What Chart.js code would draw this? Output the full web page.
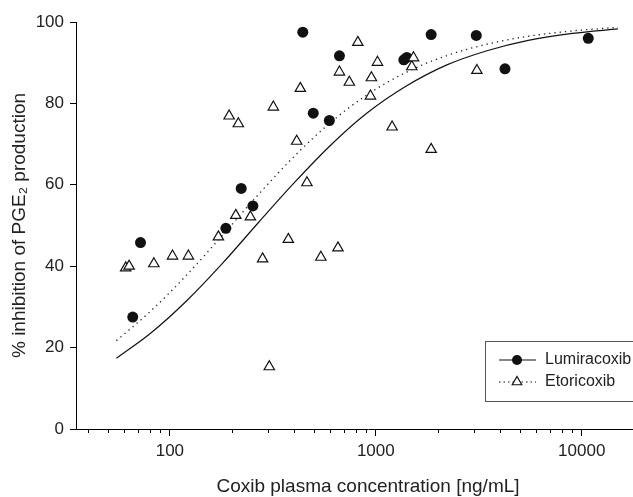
<!DOCTYPE html>
<html>
<head>
<meta charset="utf-8">
<script src="https://cdn.jsdelivr.net/npm/chart.js@4.4.1/dist/chart.umd.min.js"></script>
<style>
  html, body { margin: 0; padding: 0; background: #fff; overflow: hidden; }
  #wrap { width: 633px; height: 497px; overflow: hidden; }
</style>
</head>
<body>
<div id="wrap"><canvas id="coxibChart" width="670" height="497"></canvas></div>
<script>
// Lumiracoxib: plasma concentration [ng/mL] vs % inhibition
const lumiConc  = [66, 72, 187, 222, 253, 442, 497, 595, 666, 1368, 1415, 1857, 3076, 4240, 10760];
const lumiInhib = [27.5, 45.8, 49.3, 59.1, 54.8, 97.5, 77.6, 75.8, 91.7, 90.7, 91.3, 96.9, 96.7, 88.5, 96.0];

// Etoricoxib
const etoriConc  = [61, 63.4, 83.6, 103, 123, 172, 194, 209, 215, 246, 282, 304, 318, 376, 413,
                    430, 463, 541, 655, 666, 744, 818, 942, 952, 1019, 1200, 1496, 1524, 1857, 3097];
const etoriInhib = [39.6, 40.0, 40.6, 42.5, 42.5, 47.2, 76.9, 52.5, 75.0, 52.1, 41.8, 15.3, 79.1, 46.6, 70.7,
                    83.7, 60.5, 42.2, 44.5, 87.7, 85.2, 95.0, 81.8, 86.3, 90.1, 74.2, 89.0, 91.2, 68.7, 88.1];

// fitted curves
const fitConc  = [55, 80, 120, 180, 270, 400, 600, 900, 1400, 2200, 3500, 5500, 9000, 15000];
const lumiFit  = [17.4, 23.4, 31.4, 40.7, 50.8, 60.4, 69.6, 77.5, 84.2, 89.4, 93.0, 95.5, 97.2, 98.3];
const etoriFit = [21.7, 28.8, 37.7, 47.6, 57.7, 66.9, 75.2, 82.0, 87.6, 91.7, 94.6, 96.5, 97.8, 98.7];

// axis ticks
const xTickValues = [40, 50, 60, 70, 80, 90, 100, 200, 300, 400, 500, 600, 700, 800, 900,
                     1000, 2000, 3000, 4000, 5000, 6000, 7000, 8000, 9000, 10000, 20000];
const xLabelValues = [100, 1000, 10000];
const yTickValues = [0, 20, 40, 60, 80, 100];

const family = "'Liberation Sans', Arial, Helvetica, sans-serif";
const toPoints = (xs, ys) => xs.map((x, i) => ({ x: x, y: ys[i] }));

const minorTicks = {
  id: 'minorTicks',
  afterDraw(chart) {
    const xs = chart.scales.x;
    const ctx = chart.ctx;
    ctx.save();
    ctx.strokeStyle = '#000';
    ctx.lineWidth = 1;
    xs.ticks.forEach(t => {
      if (t.major) return;
      const px = Math.round(xs.getPixelForValue(t.value)) + 0.5;
      ctx.beginPath();
      ctx.moveTo(px, xs.top);
      ctx.lineTo(px, xs.top + 4);
      ctx.stroke();
    });
    ctx.restore();
  }
};

const boxLegend = {
  id: 'boxLegend',
  afterDraw(chart) {
    const ctx = chart.ctx;
    const area = chart.chartArea;
    const left = area.right - 175, top = area.bottom - 88;
    ctx.save();
    ctx.fillStyle = '#fff';
    ctx.fillRect(left, top, 200, 60);
    ctx.strokeStyle = '#555';
    ctx.lineWidth = 1;
    ctx.strokeRect(left + 0.5, top + 0.5, 200, 60);

    const x0 = left + 14, x1 = left + 51, xm = left + 32;
    const y1 = top + 19, y2 = top + 41;
    // Lumiracoxib sample
    ctx.strokeStyle = '#111';
    ctx.lineWidth = 1.2;
    ctx.beginPath(); ctx.moveTo(x0, y1); ctx.lineTo(x1, y1); ctx.stroke();
    ctx.fillStyle = '#111';
    ctx.beginPath(); ctx.arc(xm, y1, 5, 0, Math.PI * 2); ctx.fill();
    // Etoricoxib sample
    ctx.setLineDash([1.5, 3]);
    ctx.beginPath(); ctx.moveTo(x0, y2); ctx.lineTo(x1, y2); ctx.stroke();
    ctx.setLineDash([]);
    const r = 5.5;
    ctx.fillStyle = '#fff';
    ctx.beginPath();
    ctx.moveTo(xm, y2 - r);
    ctx.lineTo(xm + r * 0.866, y2 + r / 2);
    ctx.lineTo(xm - r * 0.866, y2 + r / 2);
    ctx.closePath();
    ctx.fill(); ctx.stroke();

    ctx.fillStyle = '#222';
    ctx.font = '16px ' + family;
    ctx.textBaseline = 'middle';
    ctx.fillText('Lumiracoxib', left + 60, y1);
    ctx.fillText('Etoricoxib', left + 60, y2);
    ctx.restore();
  }
};

new Chart(document.getElementById('coxibChart').getContext('2d'), {
  type: 'scatter',
  data: {
    datasets: [
      {
        label: 'Etoricoxib',
        data: toPoints(etoriConc, etoriInhib),
        pointStyle: 'triangle',
        pointRadius: 6,
        pointBackgroundColor: '#fff',
        pointBorderColor: '#111',
        pointBorderWidth: 1.2,
        order: 0
      },
      {
        label: 'Lumiracoxib',
        data: toPoints(lumiConc, lumiInhib),
        pointStyle: 'circle',
        pointRadius: 5.5,
        pointBackgroundColor: '#111',
        pointBorderColor: '#111',
        pointBorderWidth: 0,
        order: 1
      },
      {
        label: 'Lumiracoxib fit',
        data: toPoints(fitConc, lumiFit),
        showLine: true,
        pointRadius: 0,
        borderColor: '#111',
        borderWidth: 1.2,
        cubicInterpolationMode: 'monotone',
        order: 2
      },
      {
        label: 'Etoricoxib fit',
        data: toPoints(fitConc, etoriFit),
        showLine: true,
        pointRadius: 0,
        borderColor: '#222',
        borderWidth: 1.3,
        borderDash: [1.3, 4],
        cubicInterpolationMode: 'monotone',
        order: 3
      }
    ]
  },
  options: {
    responsive: false,
    animation: false,
    events: [],
    layout: { padding: { top: 22, right: 10, left: 0, bottom: 0 } },
    plugins: {
      legend: { display: false },
      tooltip: { enabled: false }
    },
    scales: {
      x: {
        type: 'logarithmic',
        min: 35,
        max: 24000,
        afterBuildTicks: s => { s.ticks = xTickValues.map(v => ({ value: v, major: xLabelValues.includes(v) })); },
        afterFit: s => { s.height = 68; },
        ticks: {
          autoSkip: false,
          maxRotation: 0,
          padding: 5,
          color: '#222',
          font: { size: 17, family: family },
          callback: v => xLabelValues.includes(v) ? String(v) : ''
        },
        grid: {
          drawOnChartArea: false,
          tickLength: 7,
          tickWidth: 1,
          tickColor: c => (c.tick && c.tick.major) ? '#000' : 'rgba(0,0,0,0)'
        },
        border: { color: '#000', width: 1 },
        title: {
          display: true,
          text: 'Coxib plasma concentration [ng/mL]',
          color: '#222',
          font: { size: 19, family: family, lineHeight: 1.1 },
          padding: { top: 0, bottom: 0 }
        }
      },
      y: {
        min: 0,
        max: 100,
        afterBuildTicks: s => { s.ticks = yTickValues.map(v => ({ value: v })); },
        afterFit: s => { s.width = 76; },
        ticks: {
          padding: 6,
          color: '#222',
          font: { size: 17, family: family }
        },
        grid: {
          drawOnChartArea: false,
          tickLength: 6,
          tickColor: '#000'
        },
        border: { color: '#000', width: 1 },
        title: {
          display: true,
          text: '% inhibition of PGE₂ production',
          color: '#222',
          font: { size: 19, family: family, lineHeight: 1.1 },
          padding: { top: 9, bottom: 0 }
        }
      }
    }
  },
  plugins: [minorTicks, boxLegend]
});
</script>
</body>
</html>
